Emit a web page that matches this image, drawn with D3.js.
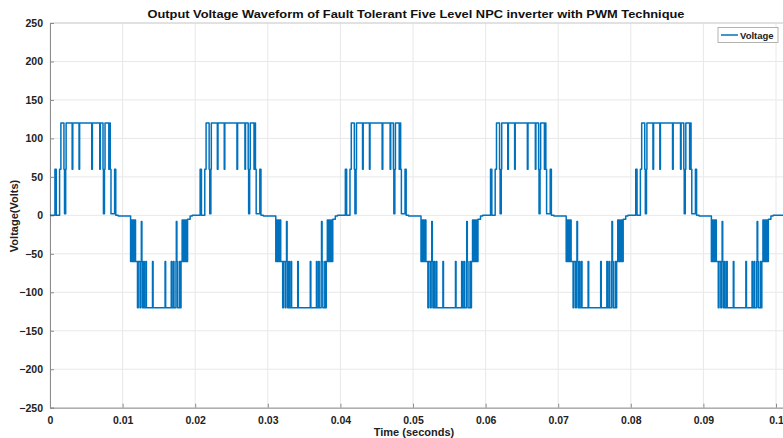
<!DOCTYPE html>
<html>
<head>
<meta charset="utf-8">
<script src="https://cdn.jsdelivr.net/npm/d3@7"></script>
<style>
  body { margin: 0; background: #fff; }
  svg { display: block; font-family: "Liberation Sans", Arial, sans-serif; }
</style>
</head>
<body>
<svg id="chart" width="783" height="438"></svg>
<script>
// values
const xTicks = [0, 0.01, 0.02, 0.03, 0.04, 0.05, 0.06, 0.07, 0.08, 0.09, 0.1];
const yTicks = [-250, -200, -150, -100, -50, 0, 50, 100, 150, 200, 250];

// the waveform repeats every 20 ms, these are where each cycle starts (s)
const cycleStarts = [0, 0.02, 0.04, 0.06, 0.08];

// switching instants inside one cycle (ms) and the level after each one (V)
const edgeTimesMs = [
  0, 0.68, 0.86, 1.32, 1.50, 1.92, 2.00, 2.16, 2.22, 3.05, 3.14, 4.00, 4.08,
  5.75, 5.84, 6.85, 6.93, 7.30, 7.36, 7.50, 7.58, 8.10, 8.22, 8.30, 8.40,
  8.90, 9.06, 9.40,
  11.10, 11.20, 11.32, 11.42, 11.52, 11.64, 11.78, 12.05, 12.15, 12.40, 12.50,
  12.58, 12.66, 12.74, 12.90, 12.98, 13.20, 13.28, 14.12, 14.20, 15.85, 15.93,
  16.70, 16.78, 17.00, 17.08, 17.35, 17.40, 17.48, 17.58, 17.85, 17.95, 18.05,
  18.20, 18.32, 18.44, 18.56, 18.68, 18.80, 18.95, 19.30, 19.60
];
const edgeLevels = [
  0, 60, 0, 60, 120, 60, 2, 60, 120, 60, 120, 60, 120,
  60, 120, 60, 120, 60, 2, 60, 120, 60, 120, 60, 2,
  60, 0, -1,
  -60, -6, -60, -6, -60, -6, -60, -120, -60, -120, -60,
  -8, -60, -120, -60, -120, -60, -120, -60, -120, -60, -120,
  -60, -120, -60, -120, -60, -8, -60, -120, -60, -120, -60,
  -6, -60, -6, -60, -6, -60, -5, -1, 0
];
const endTime = 0.1012;

const svg = d3.select("#chart");

const x = d3.scaleLinear().domain([0, endTime]).range([50, 50 + endTime * 7260]);
const y = d3.scaleLinear().domain([-250, 250]).range([407.7, 23]);

// grid
svg.append("g")
  .selectAll("line")
  .data(xTicks)
  .join("line")
  .attr("x1", d => x(d)).attr("x2", d => x(d))
  .attr("y1", y(-250)).attr("y2", y(250))
  .attr("stroke", "#e8e8e8").attr("stroke-width", 1);

svg.append("g")
  .selectAll("line")
  .data(yTicks)
  .join("line")
  .attr("x1", x(0)).attr("x2", 783)
  .attr("y1", d => y(d)).attr("y2", d => y(d))
  .attr("stroke", "#e8e8e8").attr("stroke-width", 1);

// top edge of the box
svg.append("line").attr("x1", x(0)).attr("x2", 783).attr("y1", y(250)).attr("y2", y(250))
  .attr("stroke", "#d0d0d0");

// axes, ticks point inward like the original
const xAxis = d3.axisBottom(x).tickValues(xTicks).tickSize(-4).tickPadding(9)
  .tickFormat(d => d === 0 ? "0" : d3.format("~g")(d));
const gx = svg.append("g").attr("transform", `translate(0,${y(-250)})`).call(xAxis);

const yAxis = d3.axisLeft(y).tickValues(yTicks).tickSize(-4).tickPadding(7);
const gy = svg.append("g").attr("transform", `translate(${x(0)},0)`).call(yAxis);

[gx, gy].forEach(g => {
  g.select(".domain").attr("stroke", "#8c8c8c");
  g.selectAll(".tick line").attr("stroke", "#8c8c8c");
  g.selectAll(".tick text")
    .attr("fill", "#222")
    .style("font-size", "10.5px")
    .style("font-weight", "bold")
    .style("font-family", "'Liberation Sans', Arial, sans-serif");
});

// waveform
const points = [];
cycleStarts.forEach(c => {
  edgeTimesMs.forEach((t, i) => points.push([c + t / 1000, edgeLevels[i]]));
});
points.push([endTime, 0]);

svg.append("defs").append("clipPath").attr("id", "plotclip")
  .append("rect").attr("x", x(0)).attr("y", y(250)).attr("width", 783 - x(0)).attr("height", y(-250) - y(250));

const line = d3.line()
  .x(d => x(d[0]))
  .y(d => y(d[1]))
  .curve(d3.curveStepAfter);

svg.append("path")
  .datum(points)
  .attr("clip-path", "url(#plotclip)")
  .attr("d", line)
  .attr("fill", "none")
  .attr("stroke", "#0072BD")
  .attr("stroke-width", 1.5)
  .attr("stroke-linejoin", "round");

// title and axis labels
svg.append("text")
  .attr("x", 416).attr("y", 18)
  .attr("text-anchor", "middle")
  .attr("textLength", 537).attr("lengthAdjust", "spacingAndGlyphs")
  .style("font-size", "11px").style("font-weight", "bold").attr("fill", "#111")
  .text("Output Voltage Waveform of Fault Tolerant Five Level NPC inverter with PWM Technique");

svg.append("text")
  .attr("x", 414).attr("y", 436)
  .attr("text-anchor", "middle")
  .style("font-size", "11px").style("font-weight", "bold").attr("fill", "#222")
  .text("Time (seconds)");

svg.append("text")
  .attr("transform", "translate(18,216) rotate(-90)")
  .attr("text-anchor", "middle")
  .style("font-size", "11px").style("font-weight", "bold").attr("fill", "#222")
  .text("Voltage(Volts)");

// legend
const lg = svg.append("g");
lg.append("rect").attr("x", 718).attr("y", 27.5).attr("width", 60).attr("height", 15)
  .attr("fill", "#fff").attr("stroke", "#a0a0a0").attr("stroke-width", 0.8);
lg.append("line").attr("x1", 721).attr("x2", 738).attr("y1", 35).attr("y2", 35)
  .attr("stroke", "#0072BD").attr("stroke-width", 1.5);
lg.append("text").attr("x", 740).attr("y", 38.5)
  .style("font-size", "9.5px").style("font-weight", "bold").attr("fill", "#222")
  .text("Voltage");
</script>
</body>
</html>
